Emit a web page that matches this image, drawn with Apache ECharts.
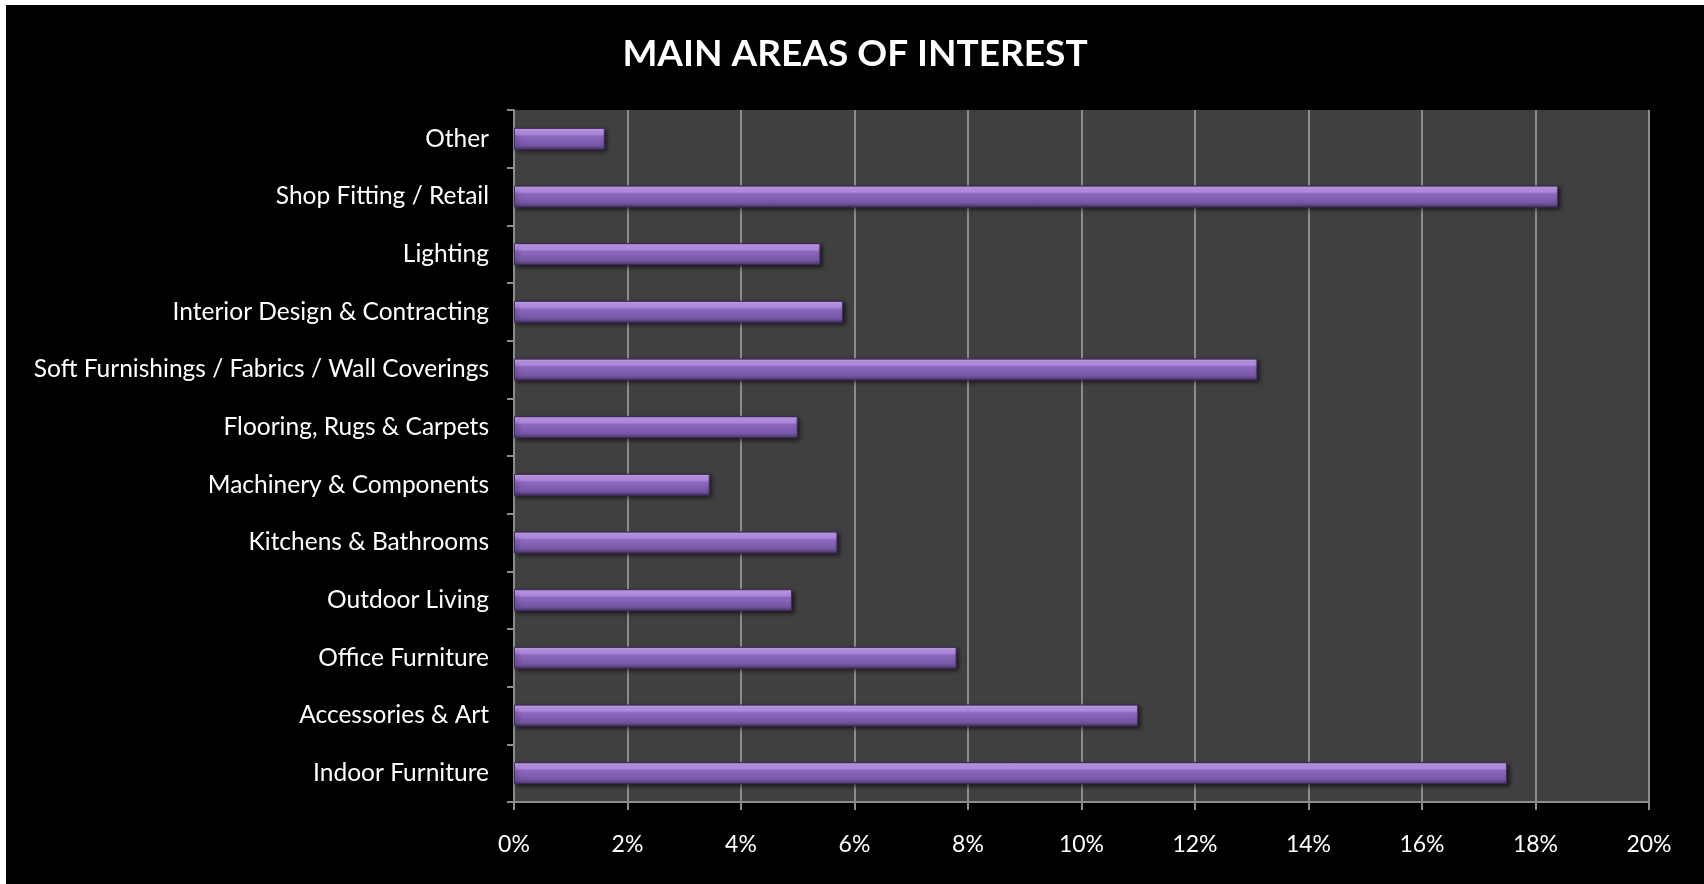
<!DOCTYPE html>
<html>
<head>
<meta charset="utf-8">
<script src="https://cdn.jsdelivr.net/npm/echarts@6/dist/echarts.min.js"></script>
<style>
  html, body { margin: 0; padding: 0; background: #ffffff; width: 1704px; height: 884px; overflow: hidden; }
  #chart { position: absolute; left: 6px; top: 5px; width: 1698px; height: 879px; background: #000000; }
</style>
</head>
<body>
<div id="chart"></div>
<script>
// Categories, top to bottom
const categories = [
  'Other',
  'Shop Fitting / Retail',
  'Lighting',
  'Interior Design & Contracting',
  'Soft Furnishings / Fabrics / Wall Coverings',
  'Flooring, Rugs & Carpets',
  'Machinery & Components',
  'Kitchens & Bathrooms',
  'Outdoor Living',
  'Office Furniture',
  'Accessories & Art',
  'Indoor Furniture'
];

// Share of respondents, percent
const shares = [1.6, 18.4, 5.4, 5.8, 13.1, 5.0, 3.45, 5.7, 4.9, 7.8, 11.0, 17.5];

// X axis ticks (percent)
const xTicks = [0, 2, 4, 6, 8, 10, 12, 14, 16, 18, 20];

const FONT = 'Lato, "Open Sans", sans-serif';

const barGradient = new echarts.graphic.LinearGradient(0, 0, 0, 1, [
  { offset: 0.00, color: '#5b4185' },
  { offset: 0.07, color: '#cca8f6' },
  { offset: 0.28, color: '#b48ce6' },
  { offset: 0.38, color: '#8d69c0' },
  { offset: 0.80, color: '#7456a2' },
  { offset: 1.00, color: '#4a3469' }
]);

const chart = echarts.init(document.getElementById('chart'), null, { renderer: 'canvas' });

chart.setOption({
  backgroundColor: '#000000',
  animation: false,
  title: {
    text: 'MAIN AREAS OF INTEREST',
    left: 'center',
    top: 26,
    textStyle: {
      color: '#ffffff',
      fontFamily: FONT,
      fontWeight: 'bold',
      fontSize: 37
    }
  },
  grid: {
    left: 508,
    right: 55,
    top: 105,
    bottom: 82,
    show: true,
    backgroundColor: '#404040',
    borderWidth: 0,
    containLabel: false
  },
  xAxis: {
    type: 'value',
    min: xTicks[0],
    max: xTicks[xTicks.length - 1],
    interval: 2,
    axisLine: { show: true, lineStyle: { color: '#8c8c8c', width: 2 } },
    axisTick: { show: true, length: 8, lineStyle: { color: '#8c8c8c', width: 2 } },
    splitLine: { show: true, lineStyle: { color: '#8c8c8c', width: 2 } },
    axisLabel: {
      color: '#ffffff',
      fontFamily: FONT,
      fontSize: 23,
      margin: 31,
      formatter: v => v + '%'
    }
  },
  yAxis: {
    type: 'category',
    inverse: true,
    data: categories,
    axisLine: { show: true, lineStyle: { color: '#8c8c8c', width: 2 } },
    axisTick: { show: true, length: 7, lineStyle: { color: '#8c8c8c', width: 2 } },
    splitLine: { show: false },
    axisLabel: {
      color: '#ffffff',
      fontFamily: FONT,
      fontSize: 24.5,
      margin: 25
    }
  },
  series: [{
    type: 'bar',
    data: shares,
    barWidth: 22,
    itemStyle: {
      color: barGradient,
      borderColor: '#3e2b5a',
      borderWidth: 1,
      shadowColor: 'rgba(0,0,0,0.6)',
      shadowBlur: 4,
      shadowOffsetX: 2,
      shadowOffsetY: 2
    }
  }]
});
</script>
</body>
</html>
